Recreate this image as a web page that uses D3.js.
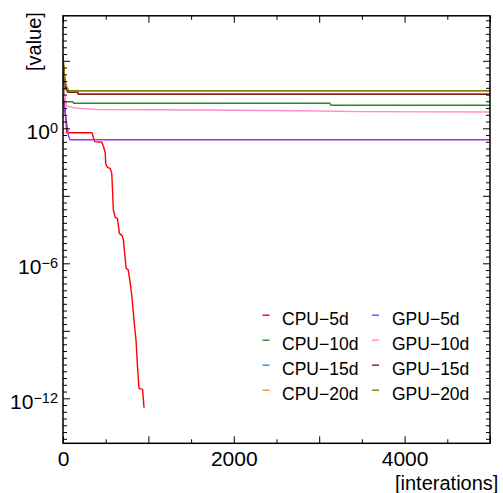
<!DOCTYPE html>
<html><head><meta charset="utf-8">
<script src="https://cdn.jsdelivr.net/npm/d3@7"></script>
<style>
html,body{margin:0;padding:0;background:#fff;}
svg{display:block;font-family:"Liberation Sans",Arial,sans-serif;}
</style></head>
<body>
<svg id="chart" width="503" height="493"></svg>
<script>
// ---- data ----
const seriesNames = ["CPU-5d","CPU-10d","CPU-15d","CPU-20d","GPU-5d","GPU-10d","GPU-15d","GPU-20d"];
const legendLabels = ["CPU\u22125d","CPU\u221210d","CPU\u221215d","CPU\u221220d","GPU\u22125d","GPU\u221210d","GPU\u221215d","GPU\u221220d"];
const seriesColors = ["#ff0000","#228b22","#1e90ff","#ff8c1a","#9b30ff","#ff8fc8","#8b1a1a","#808000"];

const cpu5dIter  = [0, 20, 45, 340, 370, 455, 475, 495, 500, 520, 551, 571, 590, 610, 637, 661, 695, 707, 739, 765, 785, 805, 835, 855, 870, 890, 932, 949];
const cpu5dValue = [794, 10, 0.63, 0.63, 0.257, 0.24, 0.151, 0.0794, 0.0275, 0.0182, 0.0166, 0.01, 2.34e-4, 1.1e-4, 1.0e-4, 2.14e-5, 1.62e-5, 1.1e-5, 6.0e-7, 5.0e-7, 1.5e-7, 3.9e-8, 2.1e-9, 3.9e-10, 3.5e-11, 2.75e-12, 2.5e-12, 3.8e-13];

const cpu10dIter  = [0, 15, 30, 117, 125, 3125, 3135, 5000];
const cpu10dValue = [158, 31.6, 15.1, 15.1, 12.9, 12.9, 10.5, 10.5];

const cpu15dIter  = [0, 15, 35, 60, 172, 180, 5000];
const cpu15dValue = [1260, 200, 56, 40, 40, 32.4, 32.4];

const cpu20dIter  = [0, 15, 35, 65, 5000];
const cpu20dValue = [1580, 251, 79, 46.8, 46.8];

const gpu5dIter  = [0, 25, 62, 82, 5000];
const gpu5dValue = [25, 4.8, 0.5, 0.31, 0.31];

const gpu10dIter  = [0, 20, 43, 160, 400, 1600, 2780, 3480, 5000];
const gpu10dValue = [100, 20, 9.8, 7.8, 6.9, 6.5, 6.0, 5.5, 5.3];

const gpu15dIter  = [0, 15, 35, 60, 172, 180, 5000];
const gpu15dValue = [1260, 200, 56, 40, 40, 32.4, 32.4];

const gpu20dIter  = [0, 15, 35, 65, 5000];
const gpu20dValue = [1580, 251, 79, 46.8, 46.8];

const xMajorTicks = [0, 1000, 2000, 3000, 4000, 5000];
const xMinorTicks = [500, 1500, 2500, 3500, 4500];
const xLabelTicks = [0, 2000, 4000];
const yMajorExps = [3, 0, -3, -6, -9, -12];
const yLabelExps = [0, -6, -12];

const xLabel = "[interations]";
const yLabel = "[value]";

// ---- build ----
const iters = [cpu5dIter, cpu10dIter, cpu15dIter, cpu20dIter, gpu5dIter, gpu10dIter, gpu15dIter, gpu20dIter];
const vals  = [cpu5dValue, cpu10dValue, cpu15dValue, cpu20dValue, gpu5dValue, gpu10dValue, gpu15dValue, gpu20dValue];
const series = seriesNames.map((n, i) => ({
  name: n, label: legendLabels[i], color: seriesColors[i],
  points: iters[i].map((t, j) => ({t, v: vals[i][j]}))
}));

const L = 63, R = 490, T = 15.8, B = 443.3;
const svg = d3.select("#chart");
const x = d3.scaleLinear().domain([0, 5000]).range([L, R]);
const y = d3.scaleLog().domain([1e-14, 1e5]).range([B, T]);

svg.append("defs").append("clipPath").attr("id", "clip")
  .append("rect").attr("x", L).attr("y", T).attr("width", R - L).attr("height", B - T);

const line = d3.line().x(d => x(d.t)).y(d => y(d.v));
const g = svg.append("g").attr("clip-path", "url(#clip)");
series.forEach(s => {
  g.append("path").datum(s.points)
    .attr("d", line).attr("fill", "none")
    .attr("stroke", s.color).attr("stroke-width", 1.4)
    .attr("stroke-linejoin", "round");
});

// minor y exponents
const yMinorExps = [];
for (let k = -5; k <= 1; k++) {
  for (let i = 1; i <= 9; i++) {
    const e = Math.round((3 * k + 0.3 * i) * 10) / 10;
    if (e >= -14 && e <= 5) yMinorExps.push(e);
  }
}
const yMajorVals = yMajorExps.map(e => Math.pow(10, e));
const yMinorVals = yMinorExps.map(e => Math.pow(10, e));

function styleAxis(sel) {
  sel.select(".domain").remove();
  sel.selectAll(".tick line").attr("stroke", "#000").attr("stroke-width", 1);
}

const fontSize = 21;
const FF = "Liberation Sans, Arial, sans-serif";
// bottom
svg.append("g").attr("transform", `translate(0,${B})`)
  .call(d3.axisBottom(x).tickValues(xMajorTicks).tickSize(-7).tickPadding(8)
    .tickFormat(d => xLabelTicks.includes(d) ? String(d) : ""))
  .call(styleAxis)
  .call(s => s.selectAll("text").attr("font-size", fontSize).attr("fill", "#000").attr("font-family", FF));
svg.append("g").attr("transform", `translate(0,${B})`)
  .call(d3.axisBottom(x).tickValues(xMinorTicks).tickSize(-4).tickFormat(""))
  .call(styleAxis);
// top
svg.append("g").attr("transform", `translate(0,${T})`)
  .call(d3.axisTop(x).tickValues(xMajorTicks).tickSize(-7).tickFormat(""))
  .call(styleAxis);
svg.append("g").attr("transform", `translate(0,${T})`)
  .call(d3.axisTop(x).tickValues(xMinorTicks).tickSize(-4).tickFormat(""))
  .call(styleAxis);
// left
const leftMajor = svg.append("g").attr("transform", `translate(${L},0)`)
  .call(d3.axisLeft(y).tickValues(yMajorVals).tickSize(-7).tickPadding(5).tickFormat(""))
  .call(styleAxis);
leftMajor.selectAll(".tick").each(function(d) {
  const e = Math.round(Math.log10(d));
  if (!yLabelExps.includes(e)) return;
  const t = d3.select(this).select("text")
    .attr("font-size", fontSize).attr("fill", "#000").attr("dy", "0.5em")
    .attr("font-family", FF);
  t.text("10");
  t.append("tspan").attr("dy", "-0.42em").attr("font-size", 14.5)
    .text(e < 0 ? "\u2212" + Math.abs(e) : String(e));
});
svg.append("g").attr("transform", `translate(${L},0)`)
  .call(d3.axisLeft(y).tickValues(yMinorVals).tickSize(-4).tickFormat(""))
  .call(styleAxis);
// right
svg.append("g").attr("transform", `translate(${R},0)`)
  .call(d3.axisRight(y).tickValues(yMajorVals).tickSize(-7).tickFormat(""))
  .call(styleAxis);
svg.append("g").attr("transform", `translate(${R},0)`)
  .call(d3.axisRight(y).tickValues(yMinorVals).tickSize(-4).tickFormat(""))
  .call(styleAxis);

// frame
svg.append("rect").attr("x", L).attr("y", T).attr("width", R - L).attr("height", B - T)
  .attr("fill", "none").attr("stroke", "#000").attr("stroke-width", 1.5);

// axis labels
svg.append("text").attr("x", 395).attr("y", 489.5).attr("font-size", 20).attr("fill", "#000").text(xLabel);
svg.append("text").attr("transform", "translate(41,71) rotate(-90)").attr("font-size", 20).attr("fill", "#000").text(yLabel);

// legend
const legCols = [{sx: 262.5, tx: 282}, {sx: 372, tx: 392}];
series.forEach((s, i) => {
  const col = legCols[Math.floor(i / 4)];
  const row = i % 4;
  const by = 324.7 + row * 25;
  svg.append("line").attr("x1", col.sx).attr("x2", col.sx + 7)
    .attr("y1", by - 9.5).attr("y2", by - 9.5)
    .attr("stroke", s.color).attr("stroke-width", 1.4);
  svg.append("text").attr("x", col.tx).attr("y", by).attr("font-size", 17.5).attr("fill", "#000").text(s.label);
});
</script>
</body></html>
